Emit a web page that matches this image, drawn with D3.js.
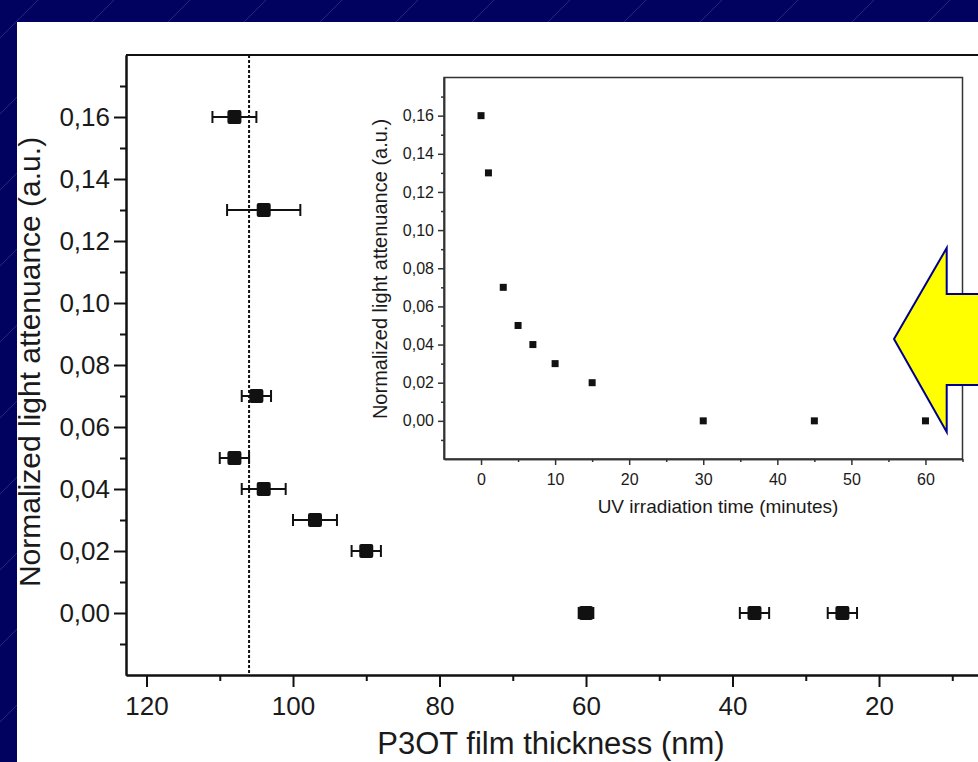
<!DOCTYPE html>
<html>
<head>
<meta charset="utf-8">
<script src="https://cdn.jsdelivr.net/npm/d3@7"></script>
<style>
  html, body { margin: 0; padding: 0; background: #010160; }
  svg { display: block; font-family: "Liberation Sans", Arial, sans-serif; }
  .tick text { fill: #1a1a1a; }
</style>
</head>
<body>
<div id="chart"></div>
<script>
// main plot: attenuance vs film thickness (with x error bars)
var thickness = [108, 104, 105, 108, 104, 97, 90, 60, 37, 25];
var thicknessErr = [3, 5, 2, 2, 3, 3, 2, 1, 2, 2];
var attenuance = [0.16, 0.13, 0.07, 0.05, 0.04, 0.03, 0.02, 0, 0, 0];
var percolationThickness = 106;

// inset: attenuance vs UV irradiation time
var uvTime = [0, 1, 3, 5, 7, 10, 15, 30, 45, 60];
var uvAttenuance = [0.16, 0.13, 0.07, 0.05, 0.04, 0.03, 0.02, 0, 0, 0];

var mainXTicks = [120, 100, 80, 60, 40, 20];
var mainXMinor = [110, 90, 70, 50, 30, 10];
var yTicks = [0, 0.02, 0.04, 0.06, 0.08, 0.10, 0.12, 0.14, 0.16];
var yMinor = [-0.01, 0.01, 0.03, 0.05, 0.07, 0.09, 0.11, 0.13, 0.15, 0.17];
var insetXTicks = [0, 10, 20, 30, 40, 50, 60];
var insetXMinor = [5, 15, 25, 35, 45, 55, 65];

var W = 978, H = 762;
var comma = d3.formatLocale({decimal: ",", thousands: ".", grouping: [3], currency: ["", ""]}).format(".2f");

var svg = d3.select("#chart").append("svg").attr("width", W).attr("height", H);

// slide background with faint diagonal streaks
svg.append("rect").attr("width", W).attr("height", H).attr("fill", "#010160");
var streaks = d3.range(-800, 1000, 76);
svg.append("g").selectAll("line").data(streaks).enter().append("line")
    .attr("x1", function(d) { return d; }).attr("y1", H)
    .attr("x2", function(d) { return d + H; }).attr("y2", 0)
    .attr("stroke", "#5a5ab4").attr("stroke-opacity", 0.4).attr("stroke-width", 1);

svg.append("rect").attr("x", 17).attr("y", 22).attr("width", W).attr("height", H).attr("fill", "#ffffff");

// ---------- main plot ----------
var m = {left: 126, top: 55, bottom: 675};
var x = d3.scaleLinear().domain([122.8, 4]).range([m.left, m.left + 118.8 * 7.325]);
var y = d3.scaleLinear().domain([-0.02, 0.18]).range([m.bottom, m.top]);

var main = svg.append("g");

// frame (top + right)
main.append("path")
    .attr("d", "M" + x.range()[0] + "," + m.top + "H" + x.range()[1] + "V" + m.bottom)
    .attr("fill", "none").attr("stroke", "#111").attr("stroke-width", 2);

main.append("g").attr("transform", "translate(" + m.left + ",0)")
    .call(d3.axisLeft(y).tickValues(yTicks).tickFormat(comma).tickSize(12).tickSizeOuter(0).tickPadding(4));
main.append("g").attr("transform", "translate(" + m.left + ",0)")
    .call(d3.axisLeft(y).tickValues(yMinor).tickFormat("").tickSize(6).tickSizeOuter(0));

main.append("g").attr("transform", "translate(0," + m.bottom + ")")
    .call(d3.axisBottom(x).tickValues(mainXTicks).tickFormat(d3.format("d")).tickSize(12).tickSizeOuter(0).tickPadding(10));
main.append("g").attr("transform", "translate(0," + m.bottom + ")")
    .call(d3.axisBottom(x).tickValues(mainXMinor).tickFormat("").tickSize(6).tickSizeOuter(0));

main.selectAll(".domain, .tick line").attr("stroke", "#111").attr("stroke-width", 2);
main.selectAll(".tick text").style("font-size", "26px");

// percolation threshold
main.append("line")
    .attr("x1", x(percolationThickness)).attr("x2", x(percolationThickness))
    .attr("y1", m.top).attr("y2", m.bottom)
    .attr("stroke", "#111").attr("stroke-width", 2).attr("stroke-dasharray", "3,2");

var pts = thickness.map(function(t, i) { return {x: t, e: thicknessErr[i], y: attenuance[i]}; });

var eb = main.append("g").selectAll("g").data(pts).enter().append("g")
    .attr("stroke", "#111").attr("stroke-width", 2);
eb.append("line")
    .attr("x1", function(d) { return x(d.x + d.e); }).attr("x2", function(d) { return x(d.x - d.e); })
    .attr("y1", function(d) { return y(d.y); }).attr("y2", function(d) { return y(d.y); });
eb.append("line")
    .attr("x1", function(d) { return x(d.x + d.e); }).attr("x2", function(d) { return x(d.x + d.e); })
    .attr("y1", function(d) { return y(d.y) - 6; }).attr("y2", function(d) { return y(d.y) + 6; });
eb.append("line")
    .attr("x1", function(d) { return x(d.x - d.e); }).attr("x2", function(d) { return x(d.x - d.e); })
    .attr("y1", function(d) { return y(d.y) - 6; }).attr("y2", function(d) { return y(d.y) + 6; });

main.append("g").selectAll("rect").data(pts).enter().append("rect")
    .attr("x", function(d) { return x(d.x) - 7; }).attr("y", function(d) { return y(d.y) - 7; })
    .attr("width", 14).attr("height", 14).attr("rx", 2).attr("fill", "#111");

main.append("text")
    .attr("transform", "translate(40,362) rotate(-90)")
    .attr("text-anchor", "middle").style("font-size", "30px").attr("fill", "#1a1a1a")
    .text("Normalized light attenuance (a.u.)");
main.append("text")
    .attr("x", 551).attr("y", 754)
    .attr("text-anchor", "middle").style("font-size", "31px").attr("fill", "#1a1a1a")
    .text("P3OT film thickness (nm)");

// ---------- inset ----------
var ix = d3.scaleLinear().domain([-5, 65]).range([444, 962.5]);
var iy = d3.scaleLinear().domain([-0.02, 0.18]).range([459, 77.5]);

var inset = svg.append("g");
inset.append("rect")
    .attr("x", ix.range()[0]).attr("y", iy.range()[1])
    .attr("width", ix.range()[1] - ix.range()[0]).attr("height", iy.range()[0] - iy.range()[1])
    .attr("fill", "#fff").attr("stroke", "#333").attr("stroke-width", 1.5);

inset.append("g").attr("transform", "translate(" + ix.range()[0] + ",0)")
    .call(d3.axisLeft(iy).tickValues(yTicks).tickFormat(comma).tickSize(6).tickSizeOuter(0).tickPadding(4));
inset.append("g").attr("transform", "translate(" + ix.range()[0] + ",0)")
    .call(d3.axisLeft(iy).tickValues(yMinor).tickFormat("").tickSize(3).tickSizeOuter(0));
inset.append("g").attr("transform", "translate(0," + iy.range()[0] + ")")
    .call(d3.axisBottom(ix).tickValues(insetXTicks).tickFormat(d3.format("d")).tickSize(6).tickSizeOuter(0).tickPadding(9));
inset.append("g").attr("transform", "translate(0," + iy.range()[0] + ")")
    .call(d3.axisBottom(ix).tickValues(insetXMinor).tickFormat("").tickSize(3).tickSizeOuter(0));

inset.selectAll(".domain, .tick line").attr("stroke", "#333").attr("stroke-width", 1.5);
inset.selectAll(".tick text").style("font-size", "16px");

inset.append("g").selectAll("rect").data(uvTime).enter().append("rect")
    .attr("x", function(d) { return ix(d) - 3.5; })
    .attr("y", function(d, i) { return iy(uvAttenuance[i]) - 3.5; })
    .attr("width", 7).attr("height", 7).attr("fill", "#111");

inset.append("text")
    .attr("transform", "translate(387,269) rotate(-90)")
    .attr("text-anchor", "middle").style("font-size", "20px").attr("fill", "#1a1a1a")
    .text("Normalized light attenuance (a.u.)");
inset.append("text")
    .attr("x", 718).attr("y", 513)
    .attr("text-anchor", "middle").style("font-size", "19px").attr("fill", "#1a1a1a")
    .text("UV irradiation time (minutes)");

// yellow block arrow pointing at the inset
var arrow = [[894, 339], [946.7, 248], [946.7, 294], [1000, 294], [1000, 385], [946.7, 385], [946.7, 432]];
svg.append("path")
    .attr("d", d3.line()(arrow) + "Z")
    .attr("fill", "#ffff00").attr("stroke", "#00008c").attr("stroke-width", 2);
</script>
</body>
</html>
